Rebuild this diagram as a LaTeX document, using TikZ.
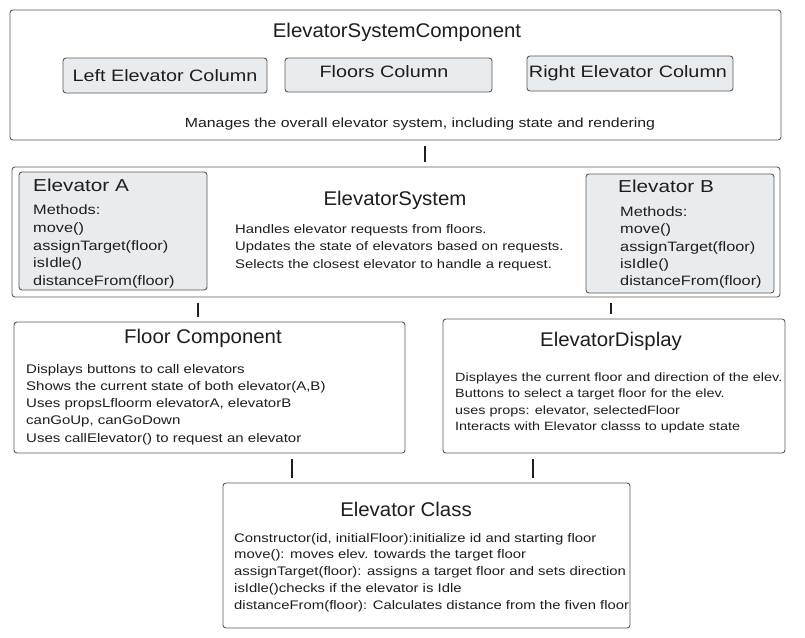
\documentclass[tikz,border=0pt]{standalone}
\usepackage{fontspec}
\setmainfont[FakeStretch=1.2]{Liberation Sans}
\newfontfamily\titlefont[FakeStretch=1.03]{Liberation Sans}
\usetikzlibrary{calc}
\definecolor{edge}{HTML}{5A5A5A}
\definecolor{subfill}{HTML}{E9ECEF}
\definecolor{ink}{HTML}{1E1E1E}
\tikzset{
  bigbox/.style={draw=edge, line width=0.9pt, rounded corners=3pt, fill=white, inner sep=0pt},
  subbox/.style={draw=edge, line width=0.9pt, rounded corners=3pt, fill=subfill, inner sep=0pt},
  conn/.style={draw=ink, line width=1.6pt, shorten <=6pt, shorten >=5pt},
  title/.style={text=ink, font=\titlefont\fontsize{19.8}{22}\selectfont, inner sep=0pt},
  body/.style={text=ink, font=\fontsize{12.5}{17}\selectfont, align=left, inner sep=0pt, anchor=north west},
  colname/.style={text=ink, font=\fontsize{16.5}{20}\selectfont, inner sep=0pt},
}
\begin{document}
\begin{tikzpicture}[x=1pt,y=-1pt]
\useasboundingbox (0,0) rectangle (805,637);
% top component
\node[bigbox, minimum width=771pt, minimum height=130pt] (top) at (395.5,75) {};
\node[title] (topt) at (397,32) {ElevatorSystemComponent};
\node[subbox, minimum width=204pt, minimum height=35pt] (left) at (165,75.5) {};
\node[colname] at (left) {Left Elevator Column};
\node[subbox, minimum width=207pt, minimum height=34pt] (floors) at (388.5,75) {};
\node[colname] at (384,72) {Floors Column};
\node[subbox, minimum width=206pt, minimum height=35pt] (right) at (630,73.5) {};
\node[colname] at (628,73.5) {Right Elevator Column};
\node[text=ink, font=\fontsize{13.2}{15}\selectfont, inner sep=0pt] (topd) at (420,124) {Manages the overall elevator system, including state and rendering};

% elevator system
\node[bigbox, minimum width=768pt, minimum height=130pt] (sys) at (396,232) {};
\node[subbox, minimum width=188pt, minimum height=118pt] (ea) at (113,231) {};
\node[subbox, minimum width=188pt, minimum height=119pt] (eb) at (680,233.5) {};
\node[colname, font=\fontsize{17.3}{20}\selectfont, anchor=west] (eat) at (33,185) {Elevator A};
\node[body, font=\fontsize{13.6}{17.8}\selectfont] (eab) at (33,204.5) {Methods:\\move()\\assignTarget(floor)\\isIdle()\\distanceFrom(floor)};
\node[colname, font=\fontsize{17.3}{20}\selectfont, anchor=west] (ebt) at (618,186) {Elevator B};
\node[body, font=\fontsize{13.6}{17.3}\selectfont] (ebb) at (620,206.5) {Methods:\\move()\\assignTarget(floor)\\isIdle()\\distanceFrom(floor)};
\node[title] (syst) at (395,200) {ElevatorSystem};
\node[body, font=\fontsize{12.4}{17.5}\selectfont] (sysb) at (235,224) {Handles elevator requests from floors.\\Updates the state of elevators based on requests.\\Selects the closest elevator to handle a request.};

% floor component
\node[bigbox, minimum width=391pt, minimum height=131pt] (floor) at (209.5,387.5) {};
\node[title] (floort) at (203,338) {Floor Component};
\node[body, font=\fontsize{12.5}{17.2}\selectfont] (floorb) at (26,364) {Displays buttons to call elevators\\Shows the current state of both elevator(A,B)\\Uses propsLfloorm elevatorA, elevatorB\\canGoUp, canGoDown\\Uses callElevator() to request an elevator};

% elevator display
\node[bigbox, minimum width=342pt, minimum height=134pt] (disp) at (614,386) {};
\node[title] (dispt) at (611,341) {ElevatorDisplay};
\node[body, font=\fontsize{12}{16.5}\selectfont] (dispb) at (455,372.5) {Displayes the current floor and direction of the elev.\\Buttons to select a target floor for the elev.\\uses props: elevator, selectedFloor\\Interacts with Elevator classs to update state};

% elevator class
\node[bigbox, minimum width=407pt, minimum height=145pt] (cls) at (426.5,555.5) {};
\node[title] (clst) at (406,509) {Elevator Class};
\node[body, font=\fontsize{12.4}{16.8}\selectfont] (clsb) at (234,533) {Constructor(id, initialFloor):initialize id and starting floor\\move(): moves elev. towards the target floor\\assignTarget(floor): assigns a target floor and sets direction\\isIdle()checks if the elevator is Idle\\distanceFrom(floor): Calculates distance from the fiven floor};

% connectors
\coordinate (c1) at (425,0);
\coordinate (c2) at (198,0);
\coordinate (c3) at (611,0);
\coordinate (c4) at (292,0);
\coordinate (c5) at (533,0);
\draw[conn] (top.south -| c1) -- (sys.north -| c1);
\draw[conn] (sys.south -| c2) -- (floor.north -| c2);
\draw[conn] (sys.south -| c3) -- (disp.north -| c3);
\draw[conn] (floor.south -| c4) -- (cls.north -| c4);
\draw[conn] (disp.south -| c5) -- (cls.north -| c5);
\end{tikzpicture}
\end{document}
